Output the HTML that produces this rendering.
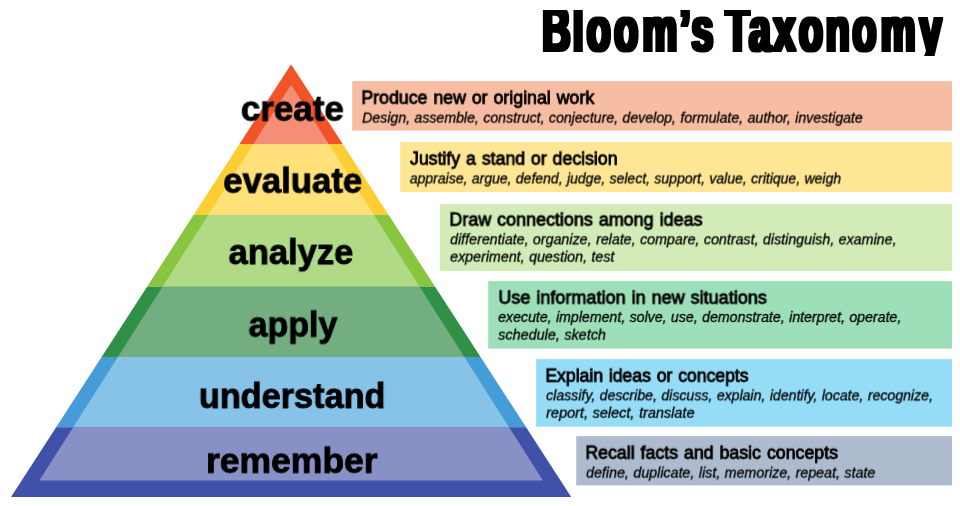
<!DOCTYPE html>
<html lang="en">
<head>
<meta charset="utf-8">
<title>Bloom’s Taxonomy</title>
<style>
html,body{margin:0;padding:0;background:#fff;}
body{width:960px;height:506px;position:relative;overflow:hidden;font-family:"Liberation Sans",Arial,sans-serif;color:#000;}
#pyr{position:absolute;left:0;top:0;width:960px;height:506px;}
.t{position:absolute;left:0;top:0;white-space:nowrap;transform-origin:0 0;margin:0;will-change:transform;}
.lv{font-size:35.5px;line-height:35.5px;font-weight:bold;font-style:normal;-webkit-text-stroke:0.9px #000;}
.hd{font-size:17.8px;line-height:17.8px;font-weight:normal;font-style:normal;word-spacing:1px;-webkit-text-stroke:0.85px #000;}
.it{font-size:14.0px;line-height:14.0px;font-weight:normal;font-style:italic;word-spacing:0.5px;-webkit-text-stroke:0.3px #000;}
</style>
</head>
<body>
<svg id="pyr" width="960" height="506" viewBox="0 0 960 506">
  <defs>
    <clipPath id="outer"><polygon points="291.1,64.2 11,497 571.2,497"/></clipPath>
    <clipPath id="inner"><polygon points="291.1,84.7 39.3,480.4 542.9,480.4"/></clipPath>
    <filter id="fat" x="-5%" y="-20%" width="110%" height="140%"><feMorphology operator="dilate" radius="2.5 0.6"/></filter>
    <clipPath id="tclip"><rect x="530" y="9.9" width="430" height="46.0"/></clipPath>
  </defs>
  <g clip-path="url(#outer)">
    <rect x="0" y="60" width="600" height="84" fill="#F05428"/>
    <rect x="0" y="144" width="600" height="71" fill="#FDCE34"/>
    <rect x="0" y="215" width="600" height="71.7" fill="#88C540"/>
    <rect x="0" y="286.7" width="600" height="70.3" fill="#2F9046"/>
    <rect x="0" y="357" width="600" height="70.2" fill="#469CD7"/>
    <rect x="0" y="427.2" width="600" height="70" fill="#3F51A8"/>
  </g>
  <g clip-path="url(#inner)">
    <rect x="0" y="60" width="600" height="84" fill="#F58E76"/>
    <rect x="0" y="144" width="600" height="71" fill="#FFE079"/>
    <rect x="0" y="215" width="600" height="71.7" fill="#B1DA86"/>
    <rect x="0" y="286.7" width="600" height="70.3" fill="#73AE80"/>
    <rect x="0" y="357" width="600" height="70.2" fill="#87C2E8"/>
    <rect x="0" y="427.2" width="600" height="70" fill="#8791C6"/>
  </g>
  <g id="boxes">
    <rect x="352.2" y="81.1" width="599.8" height="49.5" fill="#F7BDA3"/>
    <rect x="400.2" y="142" width="551.8" height="50" fill="#FEE695"/>
    <rect x="440.1" y="204.1" width="511.9" height="66.8" fill="#D2EBB7"/>
    <rect x="488.2" y="281.1" width="463.8" height="67.5" fill="#9DDFB9"/>
    <rect x="536.2" y="359.1" width="415.8" height="67.6" fill="#95DDF7"/>
    <rect x="576.2" y="436.1" width="375.8" height="49.3" fill="#AEBBCE"/>
  </g>
  <g clip-path="url(#tclip)"><text id="title" filter="url(#fat)" transform="scale(0.615,1)" x="881.63 931.14 954.07 998.62 1044.88 1105.45 1124.43 1164.23 1179.67 1217.89 1257.89 1299.19 1342.68 1386.34 1432.28 1495.37" y="51.3" font-family="Liberation Sans, Arial, sans-serif" font-weight="bold" font-size="63.5" fill="#000">Bloom’s Taxonomy</text></g>
</svg>
<div class="t lv" style="transform:translate(240.81px,91.71px) rotate(0.01deg) scaleX(0.9856)">create</div>
<div class="t lv" style="transform:translate(223.23px,163.72px) rotate(0.01deg) scaleX(0.9786)">evaluate</div>
<div class="t lv" style="transform:translate(228.62px,235.11px) rotate(0.01deg) scaleX(0.9722)">analyze</div>
<div class="t lv" style="transform:translate(248.61px,307.61px) rotate(0.01deg) scaleX(0.9572)">apply</div>
<div class="t lv" style="transform:translate(198.87px,378.91px) rotate(0.01deg) scaleX(0.9656)">understand</div>
<div class="t lv" style="transform:translate(206.00px,443.71px) rotate(0.01deg) scaleX(1.0000)">remember</div>
<div class="t hd" style="transform:translate(361.40px,89.73px) rotate(0.01deg) scaleX(0.9978)">Produce new or original work</div>
<div class="t it" style="transform:translate(362.19px,110.63px) rotate(0.01deg) scaleX(1.0091)">Design, assemble, construct, conjecture, develop, formulate, author, investigate</div>
<div class="t hd" style="transform:translate(410.00px,150.62px) rotate(0.01deg) scaleX(0.9952)">Justify a stand or decision</div>
<div class="t it" style="transform:translate(409.80px,171.43px) rotate(0.01deg) scaleX(1.0000)">appraise, argue, defend, judge, select, support, value, critique, weigh</div>
<div class="t hd" style="transform:translate(449.39px,211.62px) rotate(0.01deg) scaleX(1.0080)">Draw connections among ideas</div>
<div class="t it" style="transform:translate(450.19px,232.30px) rotate(0.01deg) scaleX(1.0172)">differentiate, organize, relate, compare, contrast, distinguish, examine,</div>
<div class="t it" style="transform:translate(450.18px,249.66px) rotate(0.01deg) scaleX(1.0186)">experiment, question, test</div>
<div class="t hd" style="transform:translate(498.38px,289.63px) rotate(0.01deg) scaleX(1.0133)">Use information in new situations</div>
<div class="t it" style="transform:translate(498.19px,309.95px) rotate(0.01deg) scaleX(1.0101)">execute, implement, solve, use, demonstrate, interpret, operate,</div>
<div class="t it" style="transform:translate(498.20px,327.67px) rotate(0.01deg) scaleX(1.0290)">schedule, sketch</div>
<div class="t hd" style="transform:translate(545.41px,367.72px) rotate(0.01deg) scaleX(0.9878)">Explain ideas or concepts</div>
<div class="t it" style="transform:translate(546.19px,388.36px) rotate(0.01deg) scaleX(1.0079)">classify, describe, discuss, explain, identify, locate, recognize,</div>
<div class="t it" style="transform:translate(546.20px,405.73px) rotate(0.01deg) scaleX(1.0350)">report, select, translate</div>
<div class="t hd" style="transform:translate(585.40px,444.73px) rotate(0.01deg) scaleX(0.9980)">Recall facts and basic concepts</div>
<div class="t it" style="transform:translate(586.18px,465.61px) rotate(0.01deg) scaleX(1.0177)">define, duplicate, list, memorize, repeat, state</div>
</body>
</html>
